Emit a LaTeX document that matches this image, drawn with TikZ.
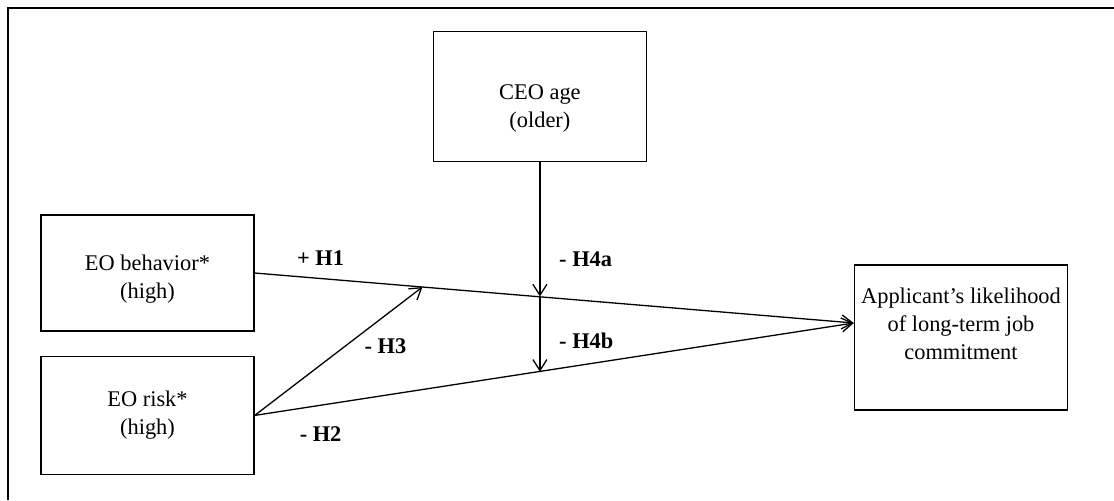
\documentclass[tikz,border=0pt]{standalone}
\usepackage{fontspec}
\setmainfont{Liberation Serif}
\usetikzlibrary{arrows.meta,positioning}

\begin{document}
\begin{tikzpicture}[
      x=0.5pt, y=-0.5pt,
      box/.style={draw, line width=0.7pt, minimum width=106.5pt, minimum height=58pt},
      txt/.style={align=center, inner sep=0pt, font=\fontsize{11.2}{14}\selectfont},
      hyp/.style={font=\fontsize{11.2}{14}\selectfont\bfseries},
      link/.style={-{Straight Barb[length=5.5pt,width=7pt]}, line width=0.65pt}
    ]
    \useasboundingbox (0,0) rectangle (1114,500);
    % Frame (top and left edges only)
    \draw[line width=1pt] (1114,8) -- (8,8) -- (8,500);

    % Boxes
    \node[box] (beh) at (147.5,273) {};
    \node[box, minimum height=59pt, below=12pt of beh] (risk) {};
    \node[box, minimum height=65pt, above right=26pt and 89pt of beh] (ceo) {};
    \node[box, minimum height=72.5pt] (app) at (961,337.5) {};
    % Box texts
    \node[txt] (behtxt) at ([yshift=-3pt]beh.center) {EO behavior*\\(high)};
    \node[txt] (risktxt) at (risk.center) {EO risk*\\(high)};
    \node[txt] (ceotxt) at ([yshift=-6pt]ceo.center) {CEO age\\(older)};
    \node[txt] (apptxt) at ([yshift=7pt]app.center) {Applicant's likelihood\\of long-term job\\commitment};
    \coordinate (tgt) at ([yshift=7.25pt]app.west);

    % Main effects
    \draw[link] (beh.east) -- node[hyp, pos=0.11, above=2.75pt] (lh1) {+ H1}
      coordinate[pos=0.28] (h1a) coordinate[pos=0.47] (h1b) (tgt);
    \draw[link] (risk.east) -- node[hyp, pos=0.11, below=7pt] (lh2) {- H2}
      coordinate[pos=0.4725] (h2b) (tgt);
    % Interaction of the two EO dimensions
    \draw[link] (risk.east) -- node[hyp, pos=0.54, right=6pt] (lh3) {- H3} (h1a);
    % Moderation by CEO age
    \draw[link] (ceo.south) -- node[hyp, pos=0.725, right=6pt] (lh4a) {- H4a} (ceo.south |- h1b);
    \draw[link] (ceo.south |- h1b) -- node[hyp, pos=0.59, right=6pt] (lh4b) {- H4b} (ceo.south |- h2b);
  \end{tikzpicture}
\end{document}
